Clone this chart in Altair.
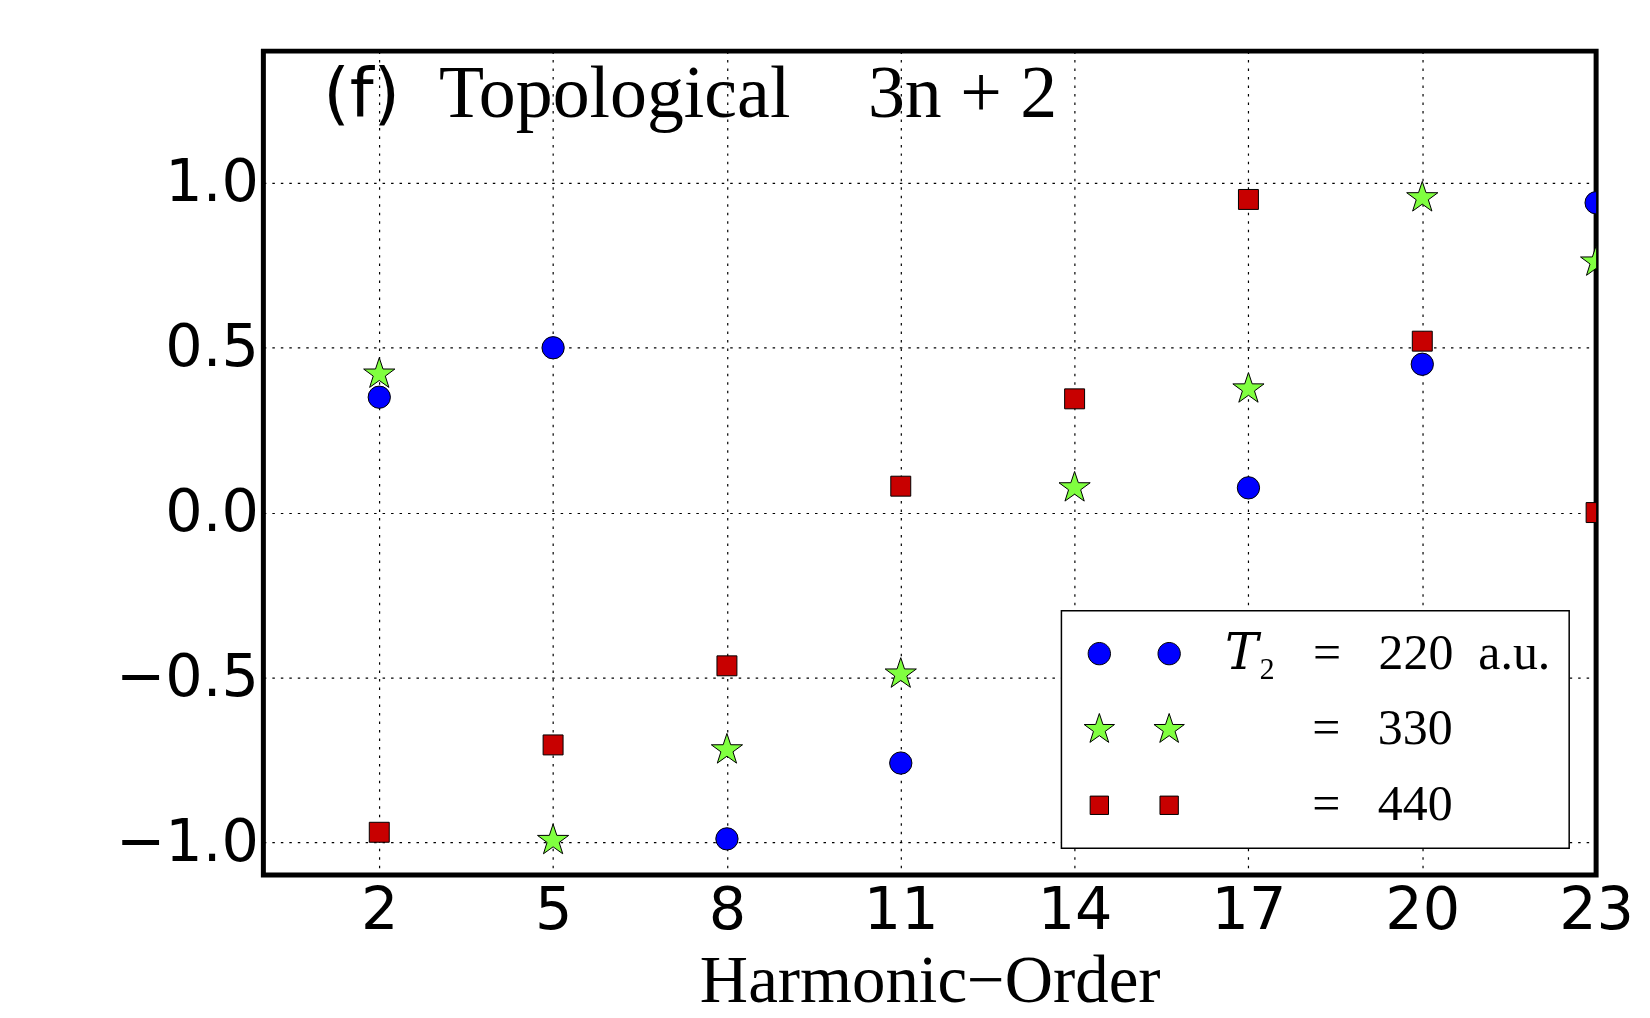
import math
import altair as alt
import pandas as pd

# ---------------- data ----------------
orders = [2, 5, 8, 11, 14, 17, 20, 23]
t220 = [0.35, 0.50, -0.99, -0.76, -0.55, 0.075, 0.45, 0.94]
t330 = [0.42, -0.995, -0.72, -0.49, 0.075, 0.375, 0.955, 0.76]
t440 = [-0.97, -0.705, -0.465, 0.08, 0.345, 0.95, 0.52, 0.0]

series = ["220", "330", "440"]
NB = "\u00a0"
series_labels = [
    "\U0001D447\u2082" + NB * 3 + "=" + NB * 3 + "220" + NB * 2 + "a.u.",
    "\u200b" + NB * 7 + "=" + NB * 3 + "330",
    "\u200b" + NB * 7 + "=" + NB * 3 + "440",
]
colors = ["#0000ff", "#80ff40", "#c80000"]
edge_colors = ["black", "black", "black"]
sizes = [500, 400, 340]

x_ticks = [2, 5, 8, 11, 14, 17, 20, 23]
y_ticks = [-1.0, -0.5, 0.0, 0.5, 1.0]

panel_tag = "(f)"
panel_words = ["Topological", "3n\u00a0+\u00a02"]
x_title = "Harmonic\u2212Order"

rows = []
for s, vals in zip(series, [t220, t330, t440]):
    for o, v in zip(orders, vals):
        rows.append({"order": o, "value": v, "series": s})
df = pd.DataFrame(rows)

# ---------------- marker shapes (unit paths) ----------------
def circle_path(cx, r):
    k = 0.5523 * r
    return (f"M{cx + r:.3f},0 C{cx + r:.3f},{k:.3f} {cx + k:.3f},{r:.3f} {cx:.3f},{r:.3f} "
            f"C{cx - k:.3f},{r:.3f} {cx - r:.3f},{k:.3f} {cx - r:.3f},0 "
            f"C{cx - r:.3f},{-k:.3f} {cx - k:.3f},{-r:.3f} {cx:.3f},{-r:.3f} "
            f"C{cx + k:.3f},{-r:.3f} {cx + r:.3f},{-k:.3f} {cx + r:.3f},0 Z")

def star_path(cx, R, ri):
    pts = []
    for i in range(10):
        ang = math.radians(-90 + 36 * i)
        rad = R if i % 2 == 0 else ri
        pts.append(f"{cx + rad * math.cos(ang):.3f},{rad * math.sin(ang):.3f}")
    return "M" + " L".join(pts) + " Z"

def square_path(cx, h):
    return (f"M{cx - h:.3f},{-h:.3f} L{cx + h:.3f},{-h:.3f} L{cx + h:.3f},{h:.3f} "
            f"L{cx - h:.3f},{h:.3f} Z")

shapes = ["circle", star_path(0, 1.55, 0.6), "square"]

c1, c2 = -1.2, 5.8
legend_shapes = [
    circle_path(c1, 1.12) + " " + circle_path(c2, 1.12),
    star_path(c1, 1.6, 0.62) + " " + star_path(c2, 1.6, 0.62),
    square_path(c1, 0.92) + " " + square_path(c2, 0.92),
]

label_expr = (f"datum.value === '{series[0]}' ? '{series_labels[0]}' : "
              f"datum.value === '{series[1]}' ? '{series_labels[1]}' : '{series_labels[2]}'")

legend = alt.Legend(
    title=None,
    orient="none",
    legendX=800,
    legendY=561,
    direction="vertical",
    fillColor="white",
    strokeColor="black",
    padding=18,
    cornerRadius=0,
    symbolSize=400,
    symbolOffset=7,
    symbolStrokeColor="black",
    symbolStrokeWidth=1,
    symbolOpacity=1,
    labelOffset=89,
    rowPadding=26,
    labelFont="Liberation Serif, DejaVu Serif",
    labelFontSize=50,
    labelColor="black",
    labelLimit=600,
    labelExpr=label_expr,
)

x_axis = alt.Axis(
    values=x_ticks, format="d", labelFont="DejaVu Sans", labelFontSize=59,
    labelColor="black", labelPadding=7, labelFlush=False, labelOverlap=False,
    ticks=False, domain=False, grid=True, gridColor="black", gridDash=[2.5, 6],
    gridWidth=1.2, gridOpacity=1,
    title=x_title, titleFont="Liberation Serif", titleFontSize=67,
    titleFontWeight="normal", titleColor="black", titleBaseline="alphabetic",
    titleY=127,
)
y_axis = alt.Axis(
    values=y_ticks, format=".1f", labelFont="DejaVu Sans", labelFontSize=59,
    labelColor="black", labelPadding=5, labelFlush=False, labelOverlap=False,
    ticks=False, domain=False, grid=True, gridColor="black", gridDash=[2.5, 6],
    gridWidth=1.2, gridOpacity=1, title=None,
)

x_scale = alt.Scale(domain=[0, 23], nice=False, zero=False)
y_scale = alt.Scale(domain=[-1.1, 1.4], nice=False, zero=False)

points = alt.Chart(df).mark_point(
    filled=True, opacity=1, stroke="black", strokeWidth=1, clip=True
).encode(
    x=alt.X("order:Q", scale=x_scale, axis=x_axis),
    y=alt.Y("value:Q", scale=y_scale, axis=y_axis),
    color=alt.Color("series:N", scale=alt.Scale(domain=series, range=colors), legend=None),
    shape=alt.Shape("series:N", scale=alt.Scale(domain=series, range=shapes), legend=None),
    size=alt.Size("series:O", scale=alt.Scale(domain=series, range=sizes), legend=None),
)

# legend-only layer: no rows drawn, its scales carry the double-marker legend
legend_layer = alt.Chart(df).transform_filter("datum.order < 0").mark_point(
    filled=True, opacity=1, strokeWidth=1, size=400
).encode(
    x=alt.X("order:Q", scale=x_scale, axis=x_axis),
    y=alt.Y("value:Q", scale=y_scale, axis=y_axis),
    color=alt.Color("series:N", scale=alt.Scale(domain=series, range=colors), legend=legend),
    shape=alt.Shape("series:N", scale=alt.Scale(domain=series, range=legend_shapes), legend=legend),
    stroke=alt.Stroke("series:N", scale=alt.Scale(domain=series, range=edge_colors), legend=legend),
)

tag = alt.Chart(pd.DataFrame({"t": [panel_tag]})).mark_text(
    font="DejaVu Sans", fontSize=68, align="left", baseline="alphabetic", color="black"
).encode(x=alt.value(60), y=alt.value(66), text="t:N")

word1 = alt.Chart(pd.DataFrame({"t": [panel_words[0]]})).mark_text(
    font="Liberation Serif", fontSize=74, align="left", baseline="alphabetic", color="black"
).encode(x=alt.value(176), y=alt.value(66), text="t:N")

word2 = alt.Chart(pd.DataFrame({"t": [panel_words[1]]})).mark_text(
    font="Liberation Serif", fontSize=74, align="left", baseline="alphabetic", color="black"
).encode(x=alt.value(606), y=alt.value(66), text="t:N")

chart = alt.layer(points, legend_layer, tag, word1, word2).resolve_scale(
    color="independent", shape="independent", stroke="independent"
).properties(
    width=1336,
    height=826,
    autosize=alt.AutoSizeParams(type="none"),
    padding={"left": 256, "top": 42, "right": 46, "bottom": 140},
    background="white",
).configure_view(
    stroke="black", strokeWidth=5
).configure_legend(
    strokeWidth=1.5
)

chart.save("out.html", embed_options={"renderer": "svg", "actions": False})
